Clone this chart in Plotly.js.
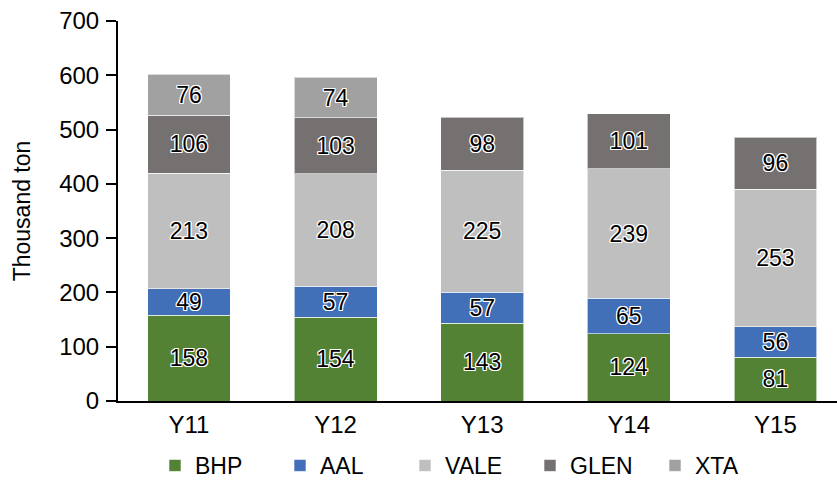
<!DOCTYPE html>
<html>
<head>
<meta charset="utf-8">
<script src="https://cdn.plot.ly/plotly-3.0.1.min.js"></script>
<style>html,body{margin:0;padding:0;background:#fff;}#chart{width:837px;height:487px;}</style>
</head>
<body>
<div id="chart"></div>
<script>
var categories = ["Y11", "Y12", "Y13", "Y14", "Y15"];
var bhp  = [158, 154, 143, 124, 81];
var aal  = [49, 57, 57, 65, 56];
var vale = [213, 208, 225, 239, 253];
var glen = [106, 103, 98, 101, 96];
var xta  = [76, 74, null, null, null];
var seriesNames = ["BHP", "AAL", "VALE", "GLEN", "XTA"];
var seriesColors = ["#548235", "#4170b8", "#bfbfbf", "#757171", "#a1a1a1"];
var seriesValues = [bhp, aal, vale, glen, xta];

var FONT = "Liberation Sans, Arial, Helvetica, sans-serif";
var halo = "-1px -1px 0 #fff, 1px -1px 0 #fff, -1px 1px 0 #fff, 1px 1px 0 #fff, 0 1px 0 #fff, 0 -1px 0 #fff, 1px 0 0 #fff, -1px 0 0 #fff";

var traces = seriesNames.map(function (n, i) {
  return {
    type: "bar",
    name: n,
    x: categories,
    y: seriesValues[i],
    marker: { color: seriesColors[i], line: { color: "rgba(255,255,255,0.6)", width: 1 } },
    text: seriesValues[i].map(function (v) { return v === null ? "" : String(v); }),
    textposition: "inside",
    insidetextanchor: "middle",
    textangle: 0,
    constraintext: "none",
    textfont: { family: FONT, size: 23, color: "#000", shadow: halo },
    hoverinfo: "x+y+name"
  };
});

var layout = {
  width: 837,
  height: 487,
  barmode: "stack",
  bargap: 0.435,
  paper_bgcolor: "#fff",
  plot_bgcolor: "#fff",
  margin: { l: 118, r: 0, t: 21, b: 86, autoexpand: false },
  font: { family: FONT, size: 24, color: "#000" },
  showlegend: true,
  legend: {
    orientation: "h",
    xref: "container", yref: "container",
    x: 155 / 837, xanchor: "left",
    y: 0, yanchor: "bottom",
    traceorder: "normal",
    font: { family: FONT, size: 23, color: "#000" },
    itemwidth: 30,
    entrywidth: 80,
    entrywidthmode: "pixels"
  },
  xaxis: {
    type: "category",
    range: [-0.484, 4.42],
    automargin: false,
    showline: true, linecolor: "#000", linewidth: 2,
    ticks: "", showgrid: false, zeroline: false,
    tickfont: { family: FONT, size: 24, color: "#000" },
    ticklabelstandoff: 1
  },
  yaxis: {
    range: [0, 700],
    automargin: false,
    tickvals: [0, 100, 200, 300, 400, 500, 600, 700],
    showline: true, linecolor: "#000", linewidth: 2,
    ticks: "outside", ticklen: 10, tickwidth: 2, tickcolor: "#000",
    showgrid: false, zeroline: false,
    tickfont: { family: FONT, size: 24, color: "#000" },
    ticklabelstandoff: 2,
    title: { text: "Thousand ton", font: { family: FONT, size: 23, color: "#000" }, standoff: 22 }
  }
};

Plotly.newPlot("chart", traces, layout, { displayModeBar: false, staticPlot: true });
</script>
</body>
</html>
